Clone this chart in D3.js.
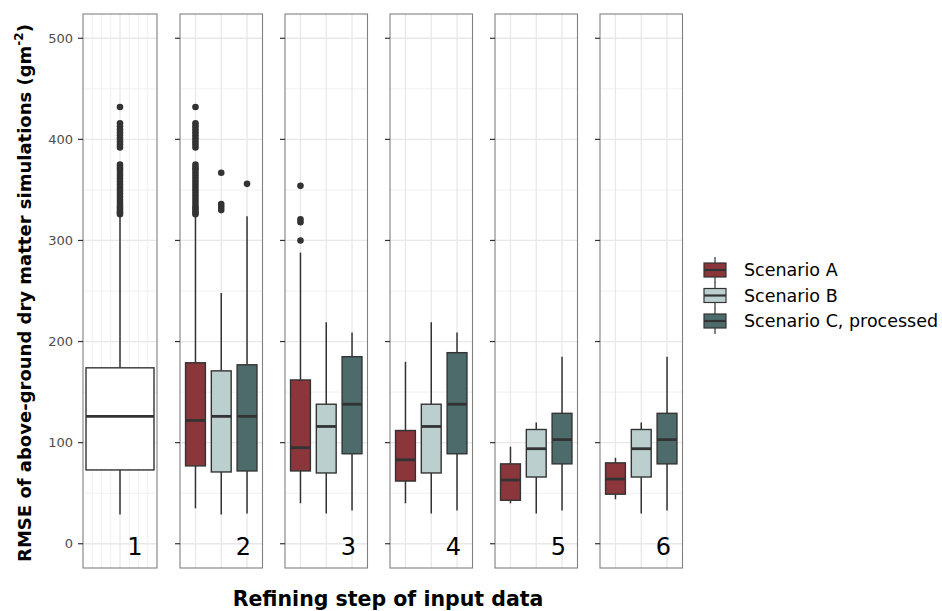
<!DOCTYPE html>
<html>
<head>
<meta charset="utf-8">
<script src="https://cdn.jsdelivr.net/npm/d3@7"></script>
<style>
body { margin: 0; background: #fff; }
text { font-family: "DejaVu Sans", sans-serif; }
</style>
</head>
<body>
<script>
// refining steps, scenarios
var steps = ["1", "2", "3", "4", "5", "6"];
var scenarios = ["Scenario A", "Scenario B", "Scenario C, processed"];
var colors = ["#8b363b", "#bccfcf", "#4e6b6b"];

// [whisker low, q1, median, q3, whisker high]
var step1Box = [29, 73, 126, 174, 324];
var step1Out = [326, 328, 330, 332, 334, 337, 340, 343, 346, 349, 352, 355, 358, 361, 364, 367, 370, 372, 375,
  392, 395, 398, 401, 404, 407, 410, 413, 416, 432];

// steps 2..6
var scenarioA = [
  [35, 77, 122, 179, 327],
  [40, 72, 95, 162, 288],
  [40, 62, 83, 112, 180],
  [40, 43, 63, 79, 96],
  [44, 49, 64, 80, 85]
];
var scenarioB = [
  [29, 71, 126, 171, 248],
  [30, 70, 116, 138, 219],
  [30, 70, 116, 138, 219],
  [30, 66, 94, 113, 120],
  [30, 66, 94, 113, 120]
];
var scenarioC = [
  [30, 72, 126, 177, 324],
  [33, 89, 138, 185, 209],
  [33, 89, 138, 189, 209],
  [33, 79, 103, 129, 185],
  [33, 79, 103, 129, 185]
];
var outA = [step1Out, [300, 318, 321, 354], [], [], []];
var outB = [[330, 333, 336, 367], [], [], [], []];
var outC = [[356], [], [], [], []];

var yTicks = [0, 100, 200, 300, 400, 500];

var w = 942, h = 611;
var svg = d3.select("body").append("svg").attr("width", w).attr("height", h);

var y = d3.scaleLinear().domain([-24, 524]).range([568, 14]);

function drawBox(g, cx, bw, s, fill, out) {
  g.append("line").attr("x1", cx).attr("x2", cx).attr("y1", y(s[0])).attr("y2", y(s[1]))
    .attr("stroke", "#333").attr("stroke-width", 1.5);
  g.append("line").attr("x1", cx).attr("x2", cx).attr("y1", y(s[3])).attr("y2", y(s[4]))
    .attr("stroke", "#333").attr("stroke-width", 1.5);
  g.append("rect").attr("x", cx - bw / 2).attr("width", bw)
    .attr("y", y(s[3])).attr("height", y(s[1]) - y(s[3]))
    .attr("fill", fill).attr("stroke", "#333").attr("stroke-width", 1.4);
  g.append("line").attr("x1", cx - bw / 2).attr("x2", cx + bw / 2).attr("y1", y(s[2])).attr("y2", y(s[2]))
    .attr("stroke", "#333").attr("stroke-width", 2.8);
  g.selectAll(null).data(out).enter().append("circle")
    .attr("cx", cx).attr("cy", function(d) { return y(d); }).attr("r", 3.3).attr("fill", "#333");
}

steps.forEach(function(step, i) {
  var px = i == 0 ? 83 : 180 + (i - 1) * 105;
  var pw = i == 0 ? 74 : 82.5;
  var g = svg.append("g").attr("transform", "translate(" + px + ",0)");

  // grid
  g.selectAll(".minor").data(d3.range(50, 500, 100)).enter().append("line")
    .attr("x1", 0).attr("x2", pw).attr("y1", y).attr("y2", y)
    .attr("stroke", "#eeeeee").attr("stroke-width", 0.8);
  g.selectAll(".major").data(yTicks).enter().append("line")
    .attr("x1", 0).attr("x2", pw).attr("y1", y).attr("y2", y)
    .attr("stroke", "#e8e8e8").attr("stroke-width", 1.3);

  if (i == 0) {
    var xs = d3.scaleLinear().domain([0, 8]).range([0, pw]);
    g.selectAll(".vg").data(d3.range(1, 8)).enter().append("line")
      .attr("x1", xs).attr("x2", xs).attr("y1", 14).attr("y2", 568)
      .attr("stroke", function(d) { return d == 4 ? "#e8e8e8" : "#eeeeee"; })
      .attr("stroke-width", function(d) { return d == 4 ? 1.3 : 0.8; });
    drawBox(g, xs(4), 68, step1Box, "#fff", step1Out);
  } else {
    var x = d3.scalePoint().domain(scenarios).range([0, pw]).padding(0.6);
    g.selectAll(".vg").data(scenarios).enter().append("line")
      .attr("x1", x).attr("x2", x).attr("y1", 14).attr("y2", 568)
      .attr("stroke", "#e8e8e8").attr("stroke-width", 1.3);
    var bw = x.step() * 0.77;
    drawBox(g, x(scenarios[0]), bw, scenarioA[i - 1], colors[0], outA[i - 1]);
    drawBox(g, x(scenarios[1]), bw, scenarioB[i - 1], colors[1], outB[i - 1]);
    drawBox(g, x(scenarios[2]), bw, scenarioC[i - 1], colors[2], outC[i - 1]);
  }

  g.append("rect").attr("x", 0).attr("y", 14).attr("width", pw).attr("height", 554)
    .attr("fill", "none").attr("stroke", "#808080").attr("stroke-width", 1.1);

  g.selectAll(".tk").data(yTicks).enter().append("line")
    .attr("x1", -5).attr("x2", 0).attr("y1", y).attr("y2", y)
    .attr("stroke", "#333").attr("stroke-width", 1.2);

  g.append("text").attr("x", pw - (i == 0 ? 22 : 19)).attr("y", 555).attr("text-anchor", "middle")
    .attr("font-size", 24).attr("fill", "#000").text(step);
});

// y labels
svg.selectAll(".yl").data(yTicks).enter().append("text")
  .attr("x", 73).attr("y", y).attr("dy", "0.36em").attr("text-anchor", "end")
  .attr("font-size", 13).attr("fill", "#4d4d4d").text(function(d) { return d; });

// titles
var yt = svg.append("text").attr("transform", "translate(31,293) rotate(-90)")
  .attr("text-anchor", "middle").attr("font-size", 18).attr("font-weight", "bold").attr("fill", "#000");
yt.append("tspan").text("RMSE of above-ground dry matter simulations (gm");
yt.append("tspan").attr("font-size", 12).attr("dy", -8).text("-2");
yt.append("tspan").attr("dy", 8).text(")");

svg.append("text").attr("x", 388).attr("y", 606).attr("text-anchor", "middle")
  .attr("font-size", 20.5).attr("font-weight", "bold").attr("fill", "#000")
  .text("Refining step of input data");

// legend
var leg = svg.append("g").attr("transform", "translate(704,270)");
scenarios.forEach(function(s, i) {
  var k = leg.append("g").attr("transform", "translate(0," + i * 25.5 + ")");
  k.append("line").attr("x1", 11).attr("x2", 11).attr("y1", -13).attr("y2", 13)
    .attr("stroke", "#333").attr("stroke-width", 1.2);
  k.append("rect").attr("x", 0).attr("y", -7).attr("width", 22).attr("height", 14)
    .attr("fill", colors[i]).attr("stroke", "#333").attr("stroke-width", 1.2);
  k.append("line").attr("x1", 0).attr("x2", 22).attr("y1", 0).attr("y2", 0)
    .attr("stroke", "#333").attr("stroke-width", 2.2);
  k.append("text").attr("x", 40).attr("y", 0).attr("dy", "0.36em")
    .attr("font-size", 17.5).attr("fill", "#000").text(s);
});
</script>
</body>
</html>
